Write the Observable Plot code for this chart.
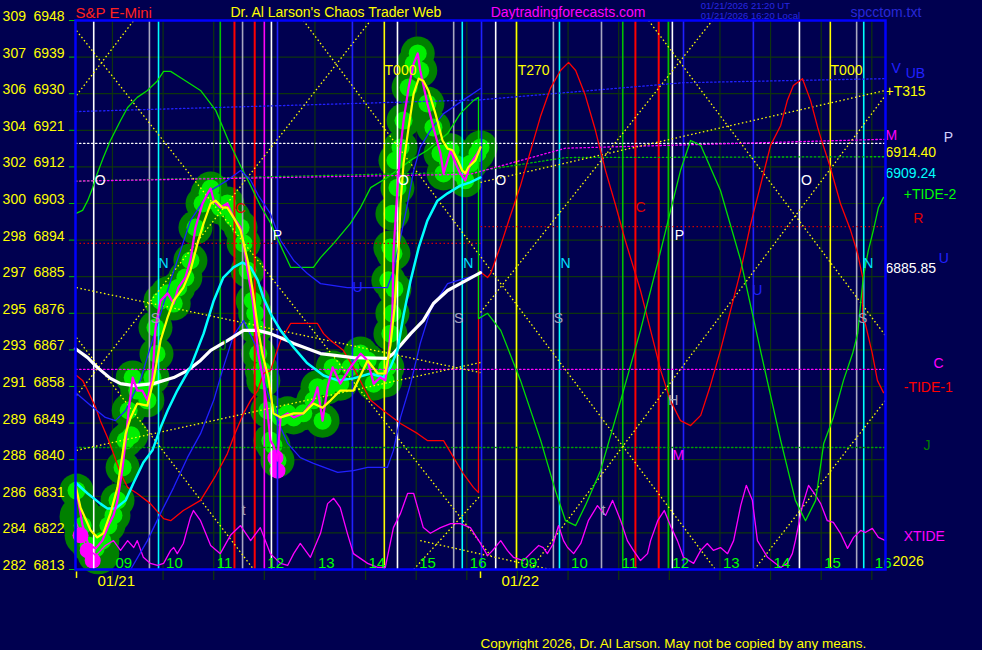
<!DOCTYPE html>
<html><head><meta charset="utf-8">
<script src="https://cdn.jsdelivr.net/npm/d3@7"></script>
<script src="https://cdn.jsdelivr.net/npm/@observablehq/plot@0.6"></script>
<style>html,body{margin:0;padding:0;background:#000050;overflow:hidden}</style>
</head><body><div id="chart"></div>
<script>
// x = session hours since 01/21 open (8 h per session), y = S&P E-mini price
const priceTicks = [6813,6822,6831,6840,6849,6858,6867,6876,6885,6894,6903,6912,6921,6930,6939,6948];
const altTicks = ["282","284","286","288","289","291","293","295","297","298","300","302","304","306","307","309"];
const hourGrid = [0.73,1.73,2.73,3.73,4.73,5.73,6.73,7.73,8.73,9.73,10.73,11.73,12.73,13.73,14.73,15.73];
const hourLabels = ["09","10","11","12","13","14","15","16","09","10","11","12","13","14","15","16"];
const dayStarts = [0.02, 8.0];
const dayLabels = ["01/21","01/22"];

const price = [[0.02,6832.4],[0.14,6823.8],[0.26,6818.9],[0.40,6818.2],[0.53,6820.1],[0.65,6823.8],[0.75,6826.3],[0.83,6830.0],[0.93,6838.1],[0.99,6844.7],[1.05,6852.1],[1.13,6860.2],[1.22,6857.0],[1.32,6857.0],[1.42,6854.6],[1.52,6860.2],[1.58,6872.5],[1.68,6879.1],[1.82,6880.9],[1.94,6878.4],[2.03,6882.3],[2.17,6884.8],[2.27,6889.0],[2.37,6897.1],[2.51,6903.0],[2.61,6905.5],[2.67,6906.7],[2.73,6903.7],[2.86,6902.0],[3.00,6903.0],[3.12,6899.6],[3.26,6897.1],[3.32,6893.2],[3.40,6886.5],[3.50,6879.1],[3.56,6872.5],[3.61,6866.1],[3.71,6859.5],[3.79,6852.1],[3.85,6844.7],[3.91,6843.5],[3.99,6839.8],[4.05,6850.4],[4.19,6851.4],[4.31,6850.4],[4.50,6851.4],[4.70,6854.6],[4.78,6857.8],[4.88,6849.6],[4.98,6857.8],[5.08,6862.7],[5.23,6858.7],[5.43,6862.7],[5.63,6866.1],[5.77,6864.4],[5.89,6858.7],[6.02,6860.2],[6.12,6859.5],[6.16,6862.7],[6.22,6871.0],[6.26,6876.0],[6.28,6890.7],[6.36,6906.9],[6.42,6916.8],[6.48,6923.4],[6.58,6931.5],[6.68,6937.4],[6.76,6939.9],[6.81,6935.7],[6.95,6927.6],[7.07,6921.7],[7.21,6915.3],[7.27,6910.4],[7.35,6913.6],[7.41,6916.1],[7.51,6912.8],[7.60,6910.4],[7.70,6908.7],[7.80,6912.8],[7.94,6915.3],[8.00,6916.8]];

const bubbleExtra = [[6.18,6884.1],[6.22,6892.2],[6.26,6900.5],[6.32,6913.6],[1.10,6846.0],[1.60,6866.0],[3.55,6876.0],[3.68,6862.0],[6.30,6882.0]];
const bigBubbles = [[0.20,6821.4],[0.45,6817.0],[0.10,6826.0]];
const pinkBlobs = [[0.10,6821.4],[0.24,6817.7],[0.34,6815.2],[3.95,6840.5],[3.99,6837.3]];

const smooth = [[0,6833.7],[0.10,6828.2],[0.30,6822.6],[0.43,6820.9],[0.55,6821.9],[0.69,6826.8],[0.83,6833.2],[0.99,6846.4],[1.09,6850.4],[1.22,6853.8],[1.42,6853.3],[1.54,6859.5],[1.68,6869.3],[1.82,6875.0],[1.94,6879.1],[2.13,6882.3],[2.27,6886.5],[2.41,6893.2],[2.53,6898.1],[2.67,6903.0],[2.77,6903.7],[2.90,6902.0],[3.00,6902.0],[3.12,6899.6],[3.26,6896.4],[3.40,6889.0],[3.50,6881.6],[3.60,6872.5],[3.69,6866.1],[3.81,6860.2],[3.91,6851.4],[4.05,6850.4],[4.31,6851.4],[4.50,6851.4],[4.70,6853.8],[4.88,6852.8],[5.04,6854.6],[5.23,6857.0],[5.49,6857.0],[5.77,6864.4],[5.97,6861.2],[6.12,6861.2],[6.22,6868.1],[6.30,6877.2],[6.38,6890.7],[6.42,6903.0],[6.48,6912.8],[6.58,6921.7],[6.68,6930.0],[6.78,6933.7],[6.87,6933.2],[6.97,6930.8],[7.11,6925.1],[7.25,6918.5],[7.35,6916.5],[7.45,6916.1],[7.55,6913.6],[7.64,6911.1],[7.70,6910.4],[7.76,6911.9],[7.90,6913.6],[8.00,6916.8]];

const cyanAvg = [[0,6834.4],[0.24,6831.7],[0.49,6829.2],[0.63,6828.0],[0.79,6828.0],[0.99,6830.0],[1.15,6834.4],[1.34,6839.3],[1.52,6842.3],[1.68,6847.9],[1.82,6852.1],[2.01,6857.0],[2.27,6862.7],[2.53,6871.0],[2.73,6879.1],[2.92,6884.8],[3.12,6887.3],[3.30,6888.5],[3.46,6887.3],[3.60,6884.1],[3.71,6879.9],[3.85,6876.0],[4.05,6871.8],[4.31,6867.6],[4.58,6863.7],[4.90,6860.7],[5.18,6859.5],[5.49,6860.0],[5.83,6861.2],[6.08,6860.2],[6.22,6862.7],[6.36,6866.9],[6.48,6875.5],[6.62,6884.1],[6.78,6892.2],[6.95,6898.8],[7.15,6903.7],[7.35,6905.5],[7.60,6907.4],[7.80,6908.2],[8.00,6909.4]];

const whiteAvg = [[0,6867.3],[0.24,6865.1],[0.43,6862.7],[0.69,6860.0],[0.89,6858.7],[1.15,6858.2],[1.54,6858.7],[1.94,6860.2],[2.21,6861.9],[2.47,6864.4],[2.67,6866.9],[3.00,6869.3],[3.32,6871.8],[3.60,6871.8],[3.85,6871.0],[4.05,6870.0],[4.31,6868.6],[4.84,6866.1],[5.49,6865.1],[6.16,6864.9],[6.28,6866.1],[6.62,6871.0],[6.87,6874.2],[7.07,6878.4],[7.35,6881.6],[7.60,6883.3],[8.00,6886.0]];

const greenCycle = [[0,6900.5],[0.14,6901.3],[0.24,6903.7],[0.34,6906.9],[0.43,6910.4],[0.55,6914.3],[0.69,6918.5],[0.89,6923.4],[1.03,6926.6],[1.22,6929.1],[1.42,6930.8],[1.62,6933.2],[1.74,6935.5],[1.88,6935.5],[2.07,6934.0],[2.47,6930.8],[2.77,6925.9],[3.02,6918.5],[3.26,6912.3],[3.46,6907.4],[3.65,6902.5],[3.85,6898.3],[4.05,6892.7],[4.25,6887.3],[4.70,6887.3],[4.84,6889.7],[5.10,6893.2],[5.43,6898.1],[5.63,6902.0],[5.83,6906.9],[6.16,6909.4],[6.62,6913.6],[6.95,6916.1],[7.35,6920.2],[7.60,6925.1],[7.86,6928.3],[7.96,6929.1],[7.96,6874.7],[8.14,6876.0],[8.40,6871.8],[8.79,6859.5],[9.19,6844.7],[9.48,6832.4],[9.68,6825.0],[9.88,6823.8],[10.07,6828.7],[10.37,6837.3],[10.77,6854.6],[11.16,6871.8],[11.56,6891.4],[11.95,6911.1],[12.15,6918.5],[12.35,6917.3],[12.74,6906.2],[13.14,6889.0],[13.53,6866.9],[13.93,6844.7],[14.22,6830.0],[14.42,6825.0],[14.62,6830.0],[14.78,6844.0],[14.97,6850.4],[15.17,6859.5],[15.35,6866.1],[15.45,6871.0],[15.56,6884.8],[15.66,6891.4],[15.76,6896.4],[15.86,6902.0],[15.96,6904.5]];

const redCycle = [[0.02,6860.7],[0.14,6859.5],[0.24,6857.0],[0.40,6852.8],[0.49,6849.6],[0.63,6845.5],[0.75,6841.5],[0.89,6836.6],[1.03,6833.2],[1.22,6831.7],[1.48,6829.2],[1.74,6825.5],[1.88,6825.0],[2.13,6827.5],[2.47,6830.0],[2.77,6836.1],[3.00,6841.5],[3.12,6845.5],[3.32,6851.4],[3.46,6854.6],[3.60,6857.0],[3.71,6861.2],[3.85,6861.9],[4.05,6869.3],[4.25,6873.5],[4.58,6873.5],[4.78,6873.5],[4.90,6871.0],[5.04,6869.3],[5.29,6866.9],[5.49,6862.7],[5.69,6857.8],[5.83,6854.6],[6.08,6852.1],[6.42,6848.9],[6.76,6846.4],[6.95,6844.7],[7.27,6844.7],[7.47,6840.5],[7.66,6836.6],[7.86,6833.2],[7.96,6831.9],[7.96,6886.5],[8.14,6884.8],[8.20,6885.8],[8.40,6892.7],[8.59,6900.0],[8.79,6907.4],[8.99,6916.0],[9.19,6924.6],[9.38,6931.3],[9.58,6935.7],[9.74,6937.7],[9.88,6935.7],[10.07,6929.6],[10.27,6921.0],[10.47,6911.1],[10.67,6902.5],[10.86,6893.9],[11.16,6881.6],[11.36,6871.8],[11.56,6861.9],[11.75,6854.6],[11.95,6849.6],[12.15,6848.4],[12.35,6850.9],[12.54,6858.2],[12.74,6866.9],[12.94,6876.7],[13.14,6886.5],[13.33,6897.6],[13.53,6907.4],[13.73,6917.3],[13.93,6922.2],[14.06,6928.3],[14.18,6932.0],[14.36,6933.7],[14.52,6928.3],[14.66,6921.7],[14.72,6919.2],[14.91,6911.9],[15.11,6903.0],[15.31,6896.4],[15.45,6890.7],[15.55,6884.8],[15.55,6874.2],[15.60,6873.5],[15.74,6866.1],[15.84,6859.5],[15.96,6856.5]];

const blueUpper = [[0,6856.5],[0.30,6853.3],[0.59,6850.4],[0.79,6849.6],[0.99,6852.1],[1.28,6859.5],[1.58,6871.8],[1.88,6884.1],[2.27,6898.8],[2.67,6906.2],[3.00,6908.7],[3.26,6911.1],[3.46,6908.7],[3.61,6905.0],[3.85,6900.5],[4.05,6893.9],[4.31,6889.0],[4.58,6885.8],[4.84,6883.3],[5.37,6882.3],[5.63,6882.3],[6.16,6882.3],[6.28,6886.5],[6.42,6894.6],[6.56,6903.0],[6.68,6911.1],[6.81,6916.8],[7.01,6921.0],[7.27,6925.1],[7.74,6929.1],[8.00,6931.3]];
const blueLower = [[1.09,6813.0],[1.42,6820.1],[1.68,6826.8],[1.94,6833.2],[2.21,6840.5],[2.47,6846.4],[2.73,6854.6],[2.92,6862.7],[3.12,6870.5],[3.32,6874.2],[3.56,6868.1],[3.75,6858.2],[3.95,6850.9],[4.19,6844.0],[4.44,6840.5],[4.70,6839.1],[5.18,6836.9],[5.49,6837.3],[5.77,6838.1],[6.16,6838.1],[6.28,6842.3],[6.42,6850.4],[6.62,6858.7],[6.81,6868.6],[7.01,6876.7],[7.35,6883.3],[7.74,6884.8],[8.00,6885.8]];

const xtide = [[0,6825.0],[0.20,6818.9],[0.40,6816.4],[0.59,6818.9],[0.75,6820.1],[0.89,6817.7],[1.03,6820.1],[1.15,6818.4],[1.22,6820.1],[1.34,6816.0],[1.48,6814.5],[1.62,6814.0],[1.74,6814.5],[1.88,6817.7],[1.94,6818.4],[2.01,6816.9],[2.13,6819.4],[2.27,6825.8],[2.33,6827.5],[2.47,6825.0],[2.67,6818.9],[2.86,6816.9],[3.06,6821.4],[3.26,6823.8],[3.46,6820.1],[3.65,6823.3],[3.85,6816.9],[4.05,6814.5],[4.19,6814.0],[4.31,6816.9],[4.44,6819.4],[4.64,6816.0],[4.84,6821.9],[4.98,6829.2],[5.10,6830.5],[5.23,6828.2],[5.37,6821.9],[5.49,6816.9],[5.77,6814.5],[5.97,6813.5],[6.12,6813.5],[6.28,6823.3],[6.42,6826.8],[6.56,6831.7],[6.68,6831.7],[6.87,6823.3],[7.01,6821.9],[7.21,6823.3],[7.41,6824.3],[7.60,6824.3],[7.80,6823.3],[8.00,6819.4],[8.14,6816.4],[8.24,6817.7],[8.40,6820.1],[8.53,6817.7],[8.65,6816.0],[8.85,6815.2],[9.05,6817.7],[9.15,6818.9],[9.24,6818.4],[9.32,6816.9],[9.44,6819.4],[9.54,6823.8],[9.64,6820.1],[9.72,6818.4],[9.84,6816.9],[9.98,6819.4],[10.13,6825.0],[10.31,6828.7],[10.47,6826.3],[10.61,6830.0],[10.77,6825.0],[10.90,6820.1],[11.02,6817.7],[11.16,6815.2],[11.30,6816.9],[11.36,6820.1],[11.50,6825.0],[11.63,6827.5],[11.75,6823.8],[11.89,6820.1],[12.01,6816.0],[12.21,6814.5],[12.35,6817.7],[12.48,6819.4],[12.60,6817.7],[12.74,6818.4],[12.88,6816.9],[13.00,6820.1],[13.14,6828.7],[13.25,6833.7],[13.37,6830.0],[13.47,6820.1],[13.67,6816.0],[13.93,6813.5],[14.06,6814.5],[14.16,6816.9],[14.22,6820.1],[14.36,6828.7],[14.48,6833.7],[14.62,6831.2],[14.72,6829.2],[14.85,6825.0],[14.97,6824.6],[15.11,6821.9],[15.25,6818.2],[15.37,6820.9],[15.51,6822.6],[15.60,6822.1],[15.74,6823.1],[15.86,6820.9],[16.00,6820.1]];

const vlineT = [0.36,1.46,1.64,2.86,3.14,3.30,3.54,3.73,3.87,3.99,5.47,6.10,6.36,7.47,7.64,8.02,8.30,8.71,9.44,9.56,10.39,10.81,11.06,11.52,11.71,11.79,12.01,13.39,14.30,14.91,15.43,15.57];
const vlineC = ["#ffffff","#a8a8c0","#00ffff","#00c000","#ff0000","#a8a8c0","#ff0000","#ff00ff","#ffffff","#2020ff","#2020ff","#ffff00","#ffffff","#a8a8c0","#00ffff","#2020ff","#ffffff","#ffff00","#a8a8c0","#00ffff","#a8a8c0","#00c000","#ff0000","#ff0000","#00c000","#ffffff","#2020ff","#2020ff","#ffffff","#ffff00","#a8a8c0","#00ffff"];

const blueDot = [[0,6925.6],[8,6928.5],[12,6932.7],[16,6933.7]];
const whiteDot = [[0,6917.8],[16,6917.8]];
const magDot = [[0,6908.5],[7.8,6910.2],[9.68,6916.6],[16,6918.8]];
const greenDot = [[0,6908.5],[7.8,6910.7],[9.68,6914.3],[16,6914.5]];
const redDot = [[0,6893.2,8,6893.2],[8,6897.3,16,6897.3]];
const magDotLow = [[0,6862.2],[16,6862.2]];
const greenDotLow = [[0,6843.0],[16,6843.0]];
const diagonals = [[0.02,6945.5,8.20,6816.4],[0.02,6929.6,1.15,6948.0],[0.02,6882.3,8.0,6861.4],[0.02,6842.3,8.0,6863.9],[8.0,6908.2,16.0,6930.8],[0.02,6855.8,5.83,6948.0],[4.50,6948.0,12.64,6813.0],[6.68,6813.0,8.0,6831.2],[0.02,6870.0,3.52,6813.0],[11.32,6948.0,16.0,6870.5],[8.0,6876.2,12.58,6948.0],[8.99,6813.0,16.0,6929.6],[13.41,6813.0,16.0,6854.6],[6.81,6820.1,9.38,6813.0]];

const markLabels = [
 [0.49,6908.7,"O","#ffffff"],[6.48,6908.7,"O","#ffffff"],[8.40,6908.7,"O","#ffffff"],[14.44,6908.7,"O","#ffffff"],
 [1.74,6888.2,"N","#00e0ff"],[7.76,6888.2,"N","#00e0ff"],[9.68,6888.2,"N","#00e0ff"],[15.66,6888.2,"N","#00e0ff"],
 [3.99,6895.1,"P","#ffffff"],[11.93,6895.1,"P","#ffffff"],
 [1.58,6874.7,"S","#a0a0b8"],[7.57,6874.7,"S","#a0a0b8"],[9.54,6874.7,"S","#a0a0b8"],[15.55,6874.7,"S","#a0a0b8"],
 [3.26,6901.8,"C","#e00000"],[11.16,6902.0,"C","#e00000"],
 [11.81,6854.6,"H","#a0a0b8"],[11.91,6841.0,"M","#ff00ff"],
 [13.47,6881.6,"U","#2020ff"],[5.57,6882.3,"U","#2020ff"],
 [3.32,6827.5,"t","#a0a0b8"],[10.43,6827.5,"t","#a0a0b8"],
 [6.42,6935.7,"T000","#ffff00"],[15.23,6935.7,"T000","#ffff00"],[9.05,6935.7,"T270","#ffff00"],
 [2.92,6868.1,"J","#008000"]
];
const sideLabels = [
 [16.12,6936.2,"V","#2020ff"],[16.40,6935.0,"UB","#2020ff"],[16.00,6930.6,"+T315","#ffff00"],
 [16.00,6919.7,"M","#ff00ff"],[17.15,6919.2,"P","#d0d0ff"],[16.00,6915.5,"6914.40","#ffff00"],
 [16.00,6910.4,"6909.24","#00ffff"],[16.36,6905.2,"+TIDE-2","#00ff00"],[16.55,6899.3,"R","#e00000"],
 [17.05,6889.5,"U","#2020ff"],[16.00,6887.0,"6885.85","#ffffff"],[16.95,6863.7,"C","#ff00ff"],
 [16.36,6857.8,"-TIDE-1","#ff0000"],[16.75,6843.5,"J","#008000"],[16.36,6821.1,"XTIDE","#ff00ff"],
 [16.14,6815.0,"2026","#ffff00"]
];
const headerLabels = [
 [0.00,6949.7,"S&P E-Mini","#ff2020",15],
 [3.06,6949.9,"Dr. Al Larson's Chaos Trader Web","#ffff00",14],
 [8.20,6949.9,"Daytradingforecasts.com","#ff00ff",14],
 [12.35,6951.7,"01/21/2026 21:20 UT","#2828e0",9.5],
 [12.35,6949.2,"01/21/2026 16:20 Local","#2828e0",9.5],
 [15.31,6950.0,"spcctom.txt","#2828d8",14],
 [8.00,6794.8,"Copyright 2026, Dr. Al Larson. May not be copied by any means.","#ffff00",13.5]
];

const GRID = "#0e340e";
const X = d => d[0], Y = d => d[1];
const dotted = {strokeDasharray: "1.5,2.5", strokeWidth: 1.3};
const bubbles = price.concat(bubbleExtra);

const chart = Plot.plot({
  width: 982, height: 650,
  marginLeft: 75, marginRight: 97, marginTop: 20, marginBottom: 81,
  x: {domain: [0, 16], axis: null},
  y: {domain: [6813, 6948], axis: null},
  color: {type: "identity"},
  style: {background: "#000050", fontFamily: "Liberation Sans, Arial, sans-serif", overflow: "visible"},
  marks: [
    Plot.ruleY(priceTicks, {y: d => d, x1: 0, x2: 16, stroke: GRID, strokeWidth: 1.2}),
    Plot.ruleX(hourGrid, {x: d => d, y1: 6810.3, y2: 6948, stroke: GRID, strokeWidth: 1.2}),
    Plot.ruleY(priceTicks, {y: d => d, x1: -0.12, x2: 0, stroke: "#00c000"}),
    // bubbles
    Plot.dot(bigBubbles, {x: X, y: Y, r: 21, fill: "#008000"}),
    Plot.dot(bubbles, {x: X, y: Y, r: 17, fill: "#008000"}),
    Plot.dot(bubbles, {x: X, y: Y, r: 9, fill: "#00ee00"}),
    Plot.dot(pinkBlobs, {x: X, y: Y, r: 8, fill: "#ff00ff"}),
    // vertical event lines
    Plot.ruleX(vlineT, {x: d => d, y1: 6813, y2: 6948, stroke: (d, i) => vlineC[i], strokeWidth: (d, i) => vlineC[i] === "#ff0000" ? 2 : 1.6}),
    // dotted levels
    Plot.line(blueDot, {x: X, y: Y, stroke: "#2020ff", ...dotted}),
    Plot.line(whiteDot, {x: X, y: Y, stroke: "#ffffff", ...dotted}),
    Plot.line(greenDot, {x: X, y: Y, stroke: "#00c000", ...dotted}),
    Plot.line(magDot, {x: X, y: Y, stroke: "#ff00ff", ...dotted}),
    Plot.link(redDot, {x1: d => d[0], y1: d => d[1], x2: d => d[2], y2: d => d[3], stroke: "#d00000", ...dotted}),
    Plot.line(magDotLow, {x: X, y: Y, stroke: "#ff00ff", ...dotted}),
    Plot.line(greenDotLow, {x: X, y: Y, stroke: "#00a000", ...dotted}),
    Plot.link(diagonals, {x1: d => d[0], y1: d => d[1], x2: d => d[2], y2: d => d[3], stroke: "#ffff00", ...dotted}),
    // cycles & averages
    Plot.line(xtide, {x: X, y: Y, stroke: "#ff00ff", strokeWidth: 1.3}),
    Plot.line(redCycle, {x: X, y: Y, stroke: "#ff0000", strokeWidth: 1.3}),
    Plot.line(greenCycle, {x: X, y: Y, stroke: "#00e000", strokeWidth: 1.3}),
    Plot.line(blueUpper, {x: X, y: Y, stroke: "#2020ff", strokeWidth: 1.3}),
    Plot.line(blueLower, {x: X, y: Y, stroke: "#2020ff", strokeWidth: 1.3}),
    Plot.line(whiteAvg, {x: X, y: Y, stroke: "#ffffff", strokeWidth: 3.2}),
    Plot.line(cyanAvg, {x: X, y: Y, stroke: "#00ffff", strokeWidth: 2.5}),
    Plot.line(price, {x: X, y: Y, stroke: "#ff00ff", strokeWidth: 2.2}),
    Plot.line(smooth, {x: X, y: Y, stroke: "#ffff00", strokeWidth: 2.2}),
    // labels in plot
    Plot.text(markLabels, {x: X, y: Y, text: d => d[2], fill: d => d[3], fontSize: 14, textAnchor: "middle"}),
    // hour & date axis
    Plot.text(hourGrid, {x: d => d, y: 6814.5, text: (d, i) => hourLabels[i], fill: "#00ff00", fontSize: 15, textAnchor: "start", dx: 3}),
    Plot.ruleX(dayStarts, {x: d => d, y1: 6812.4, y2: 6810.8, stroke: "#ffff00", strokeWidth: 1.5}),
    Plot.text(dayStarts, {x: d => d, y: 6810.2, text: (d, i) => dayLabels[i], fill: "#ffff00", fontSize: 15, textAnchor: "start", dx: 21}),
    // left price labels
    Plot.text(priceTicks, {x: -1.44, y: d => d, text: (d, i) => altTicks[i], fill: "#ffff00", fontSize: 14, textAnchor: "start", dy: -4}),
    Plot.text(priceTicks, {x: -0.83, y: d => d, text: d => String(d), fill: "#ffff00", fontSize: 14, textAnchor: "start", dy: -4}),
    // right side labels
    Plot.text(sideLabels, {x: X, y: Y, text: d => d[2], fill: d => d[3], fontSize: 14, textAnchor: "start"}),
    // header / footer
    Plot.text(headerLabels, {x: X, y: Y, text: d => d[2], fill: d => d[3], fontSize: d => d[4], textAnchor: "start"}),
    Plot.frame({stroke: "#0000ff", strokeWidth: 2.5})
  ]
});
document.getElementById("chart").appendChild(chart);
</script></body></html>
